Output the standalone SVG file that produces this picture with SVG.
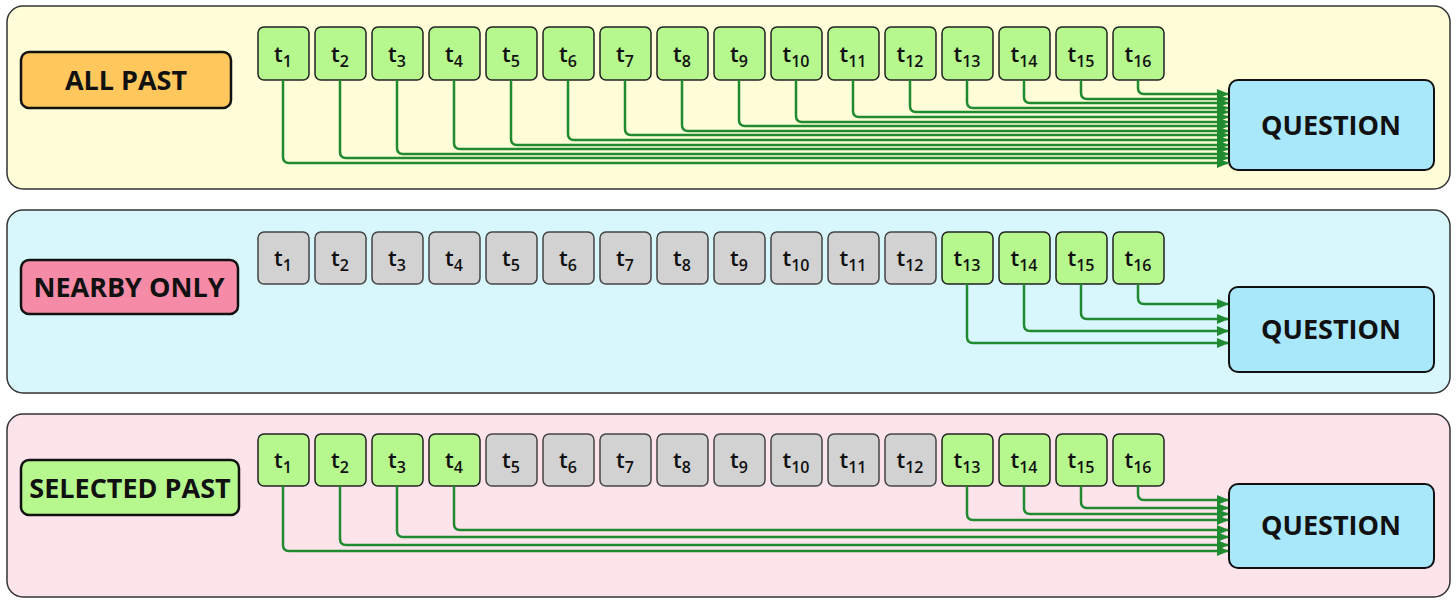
<svg xmlns="http://www.w3.org/2000/svg" width="1456" height="607" viewBox="0 0 1456 607">
<defs>
<marker id="ah" markerWidth="12" markerHeight="10" refX="11" refY="5" orient="auto" markerUnits="userSpaceOnUse"><path d="M0,0 L12,5 L0,10 Z" fill="#1f8a2f"/></marker>
<style>
.pan{stroke:#333;stroke-width:1.5}
.tk{fill:#b6f78e;stroke:#222;stroke-width:1.5}
.tg{fill:#d2d2d2;stroke:#444;stroke-width:1.5}
.tt{font-family:"Open Sans",sans-serif;font-weight:600;font-size:22px;fill:#111;text-anchor:middle}
.sub{font-size:16px}
.lb{stroke:#111;stroke-width:2.5}
.lt{font-family:"Open Sans",sans-serif;font-weight:bold;font-size:27px;fill:#111;text-anchor:middle}
.q{fill:#a9e7fa;stroke:#111;stroke-width:2}
.c{fill:none;stroke:#1f8a2f;stroke-width:2.5;marker-end:url(#ah)}
</style>
</defs>
<rect width="1456" height="607" fill="#fff"/>
<g id="panel1"><rect class="pan" x="7" y="6" width="1443" height="183" rx="16" fill="#fefdd8"/></g>
<g id="panel2"><rect class="pan" x="7" y="210" width="1443" height="183" rx="16" fill="#d8f7fc"/></g>
<g id="panel3"><rect class="pan" x="7" y="414" width="1443" height="183" rx="16" fill="#fde4eb"/></g>
<g id="label1"><rect class="lb" x="21" y="52" width="210" height="56" rx="8" fill="#ffc75c"/><text class="lt" x="126" y="90">ALL PAST</text></g>
<g id="label2"><rect class="lb" x="21" y="260" width="217" height="54" rx="8" fill="#f58ba6"/><text class="lt" x="129" y="297">NEARBY ONLY</text></g>
<g id="label3"><rect class="lb" x="21" y="460" width="218" height="55" rx="8" fill="#b6f78e"/><text class="lt" x="130" y="498">SELECTED PAST</text></g>
<g id="q1"><rect class="q" x="1229" y="80" width="205" height="90" rx="9"/><text class="lt" x="1331" y="135">QUESTION</text></g>
<g id="q2"><rect class="q" x="1229" y="287" width="205" height="85" rx="9"/><text class="lt" x="1331" y="339">QUESTION</text></g>
<g id="q3"><rect class="q" x="1229" y="484" width="205" height="84" rx="9"/><text class="lt" x="1331" y="535">QUESTION</text></g>
<g id="tokens1">
<rect class="tk" x="258" y="27" width="51" height="53" rx="6"/><text class="tt" x="283" y="62">t<tspan class="sub" dy="5">1</tspan></text>
<rect class="tk" x="315" y="27" width="51" height="53" rx="6"/><text class="tt" x="340" y="62">t<tspan class="sub" dy="5">2</tspan></text>
<rect class="tk" x="372" y="27" width="51" height="53" rx="6"/><text class="tt" x="397" y="62">t<tspan class="sub" dy="5">3</tspan></text>
<rect class="tk" x="429" y="27" width="51" height="53" rx="6"/><text class="tt" x="454" y="62">t<tspan class="sub" dy="5">4</tspan></text>
<rect class="tk" x="486" y="27" width="51" height="53" rx="6"/><text class="tt" x="511" y="62">t<tspan class="sub" dy="5">5</tspan></text>
<rect class="tk" x="543" y="27" width="51" height="53" rx="6"/><text class="tt" x="568" y="62">t<tspan class="sub" dy="5">6</tspan></text>
<rect class="tk" x="600" y="27" width="51" height="53" rx="6"/><text class="tt" x="625" y="62">t<tspan class="sub" dy="5">7</tspan></text>
<rect class="tk" x="657" y="27" width="51" height="53" rx="6"/><text class="tt" x="682" y="62">t<tspan class="sub" dy="5">8</tspan></text>
<rect class="tk" x="714" y="27" width="51" height="53" rx="6"/><text class="tt" x="739" y="62">t<tspan class="sub" dy="5">9</tspan></text>
<rect class="tk" x="771" y="27" width="51" height="53" rx="6"/><text class="tt" x="796" y="62">t<tspan class="sub" dy="5">10</tspan></text>
<rect class="tk" x="828" y="27" width="51" height="53" rx="6"/><text class="tt" x="853" y="62">t<tspan class="sub" dy="5">11</tspan></text>
<rect class="tk" x="885" y="27" width="51" height="53" rx="6"/><text class="tt" x="910" y="62">t<tspan class="sub" dy="5">12</tspan></text>
<rect class="tk" x="942" y="27" width="51" height="53" rx="6"/><text class="tt" x="967" y="62">t<tspan class="sub" dy="5">13</tspan></text>
<rect class="tk" x="999" y="27" width="51" height="53" rx="6"/><text class="tt" x="1024" y="62">t<tspan class="sub" dy="5">14</tspan></text>
<rect class="tk" x="1056" y="27" width="51" height="53" rx="6"/><text class="tt" x="1081" y="62">t<tspan class="sub" dy="5">15</tspan></text>
<rect class="tk" x="1113" y="27" width="51" height="53" rx="6"/><text class="tt" x="1138" y="62">t<tspan class="sub" dy="5">16</tspan></text>
</g>
<g id="tokens2">
<rect class="tg" x="258" y="232" width="51" height="52" rx="6"/><text class="tt" x="283" y="266">t<tspan class="sub" dy="5">1</tspan></text>
<rect class="tg" x="315" y="232" width="51" height="52" rx="6"/><text class="tt" x="340" y="266">t<tspan class="sub" dy="5">2</tspan></text>
<rect class="tg" x="372" y="232" width="51" height="52" rx="6"/><text class="tt" x="397" y="266">t<tspan class="sub" dy="5">3</tspan></text>
<rect class="tg" x="429" y="232" width="51" height="52" rx="6"/><text class="tt" x="454" y="266">t<tspan class="sub" dy="5">4</tspan></text>
<rect class="tg" x="486" y="232" width="51" height="52" rx="6"/><text class="tt" x="511" y="266">t<tspan class="sub" dy="5">5</tspan></text>
<rect class="tg" x="543" y="232" width="51" height="52" rx="6"/><text class="tt" x="568" y="266">t<tspan class="sub" dy="5">6</tspan></text>
<rect class="tg" x="600" y="232" width="51" height="52" rx="6"/><text class="tt" x="625" y="266">t<tspan class="sub" dy="5">7</tspan></text>
<rect class="tg" x="657" y="232" width="51" height="52" rx="6"/><text class="tt" x="682" y="266">t<tspan class="sub" dy="5">8</tspan></text>
<rect class="tg" x="714" y="232" width="51" height="52" rx="6"/><text class="tt" x="739" y="266">t<tspan class="sub" dy="5">9</tspan></text>
<rect class="tg" x="771" y="232" width="51" height="52" rx="6"/><text class="tt" x="796" y="266">t<tspan class="sub" dy="5">10</tspan></text>
<rect class="tg" x="828" y="232" width="51" height="52" rx="6"/><text class="tt" x="853" y="266">t<tspan class="sub" dy="5">11</tspan></text>
<rect class="tg" x="885" y="232" width="51" height="52" rx="6"/><text class="tt" x="910" y="266">t<tspan class="sub" dy="5">12</tspan></text>
<rect class="tk" x="942" y="232" width="51" height="52" rx="6"/><text class="tt" x="967" y="266">t<tspan class="sub" dy="5">13</tspan></text>
<rect class="tk" x="999" y="232" width="51" height="52" rx="6"/><text class="tt" x="1024" y="266">t<tspan class="sub" dy="5">14</tspan></text>
<rect class="tk" x="1056" y="232" width="51" height="52" rx="6"/><text class="tt" x="1081" y="266">t<tspan class="sub" dy="5">15</tspan></text>
<rect class="tk" x="1113" y="232" width="51" height="52" rx="6"/><text class="tt" x="1138" y="266">t<tspan class="sub" dy="5">16</tspan></text>
</g>
<g id="tokens3">
<rect class="tk" x="258" y="434" width="51" height="52" rx="6"/><text class="tt" x="283" y="468">t<tspan class="sub" dy="5">1</tspan></text>
<rect class="tk" x="315" y="434" width="51" height="52" rx="6"/><text class="tt" x="340" y="468">t<tspan class="sub" dy="5">2</tspan></text>
<rect class="tk" x="372" y="434" width="51" height="52" rx="6"/><text class="tt" x="397" y="468">t<tspan class="sub" dy="5">3</tspan></text>
<rect class="tk" x="429" y="434" width="51" height="52" rx="6"/><text class="tt" x="454" y="468">t<tspan class="sub" dy="5">4</tspan></text>
<rect class="tg" x="486" y="434" width="51" height="52" rx="6"/><text class="tt" x="511" y="468">t<tspan class="sub" dy="5">5</tspan></text>
<rect class="tg" x="543" y="434" width="51" height="52" rx="6"/><text class="tt" x="568" y="468">t<tspan class="sub" dy="5">6</tspan></text>
<rect class="tg" x="600" y="434" width="51" height="52" rx="6"/><text class="tt" x="625" y="468">t<tspan class="sub" dy="5">7</tspan></text>
<rect class="tg" x="657" y="434" width="51" height="52" rx="6"/><text class="tt" x="682" y="468">t<tspan class="sub" dy="5">8</tspan></text>
<rect class="tg" x="714" y="434" width="51" height="52" rx="6"/><text class="tt" x="739" y="468">t<tspan class="sub" dy="5">9</tspan></text>
<rect class="tg" x="771" y="434" width="51" height="52" rx="6"/><text class="tt" x="796" y="468">t<tspan class="sub" dy="5">10</tspan></text>
<rect class="tg" x="828" y="434" width="51" height="52" rx="6"/><text class="tt" x="853" y="468">t<tspan class="sub" dy="5">11</tspan></text>
<rect class="tg" x="885" y="434" width="51" height="52" rx="6"/><text class="tt" x="910" y="468">t<tspan class="sub" dy="5">12</tspan></text>
<rect class="tk" x="942" y="434" width="51" height="52" rx="6"/><text class="tt" x="967" y="468">t<tspan class="sub" dy="5">13</tspan></text>
<rect class="tk" x="999" y="434" width="51" height="52" rx="6"/><text class="tt" x="1024" y="468">t<tspan class="sub" dy="5">14</tspan></text>
<rect class="tk" x="1056" y="434" width="51" height="52" rx="6"/><text class="tt" x="1081" y="468">t<tspan class="sub" dy="5">15</tspan></text>
<rect class="tk" x="1113" y="434" width="51" height="52" rx="6"/><text class="tt" x="1138" y="468">t<tspan class="sub" dy="5">16</tspan></text>
</g>
<g id="connectors">
<path class="c" d="M283,80 V157 Q283,163 289,163 H1228"/>
<path class="c" d="M340,80 V152 Q340,158 346,158 H1228"/>
<path class="c" d="M397,80 V148 Q397,154 403,154 H1228"/>
<path class="c" d="M454,80 V143 Q454,149 460,149 H1228"/>
<path class="c" d="M511,80 V139 Q511,145 517,145 H1228"/>
<path class="c" d="M568,80 V134 Q568,140 574,140 H1228"/>
<path class="c" d="M625,80 V129 Q625,135 631,135 H1228"/>
<path class="c" d="M682,80 V125 Q682,131 688,131 H1228"/>
<path class="c" d="M739,80 V120 Q739,126 745,126 H1228"/>
<path class="c" d="M796,80 V116 Q796,122 802,122 H1228"/>
<path class="c" d="M853,80 V111 Q853,117 859,117 H1228"/>
<path class="c" d="M910,80 V106 Q910,112 916,112 H1228"/>
<path class="c" d="M967,80 V102 Q967,108 973,108 H1228"/>
<path class="c" d="M1024,80 V97 Q1024,103 1030,103 H1228"/>
<path class="c" d="M1081,80 V93 Q1081,99 1087,99 H1228"/>
<path class="c" d="M1138,80 V88 Q1138,94 1144,94 H1228"/>
<path class="c" d="M967,284 V337 Q967,343 973,343 H1228"/>
<path class="c" d="M1024,284 V325 Q1024,331 1030,331 H1228"/>
<path class="c" d="M1081,284 V313 Q1081,319 1087,319 H1228"/>
<path class="c" d="M1138,284 V298 Q1138,304 1144,304 H1228"/>
<path class="c" d="M283,486 V545 Q283,551 289,551 H1228"/>
<path class="c" d="M340,486 V539 Q340,545 346,545 H1228"/>
<path class="c" d="M397,486 V531 Q397,537 403,537 H1228"/>
<path class="c" d="M454,486 V524 Q454,530 460,530 H1228"/>
<path class="c" d="M967,486 V514 Q967,520 973,520 H1228"/>
<path class="c" d="M1024,486 V508 Q1024,514 1030,514 H1228"/>
<path class="c" d="M1081,486 V502 Q1081,508 1087,508 H1228"/>
<path class="c" d="M1138,486 V494 Q1138,500 1144,500 H1228"/>
</g>
</svg>
